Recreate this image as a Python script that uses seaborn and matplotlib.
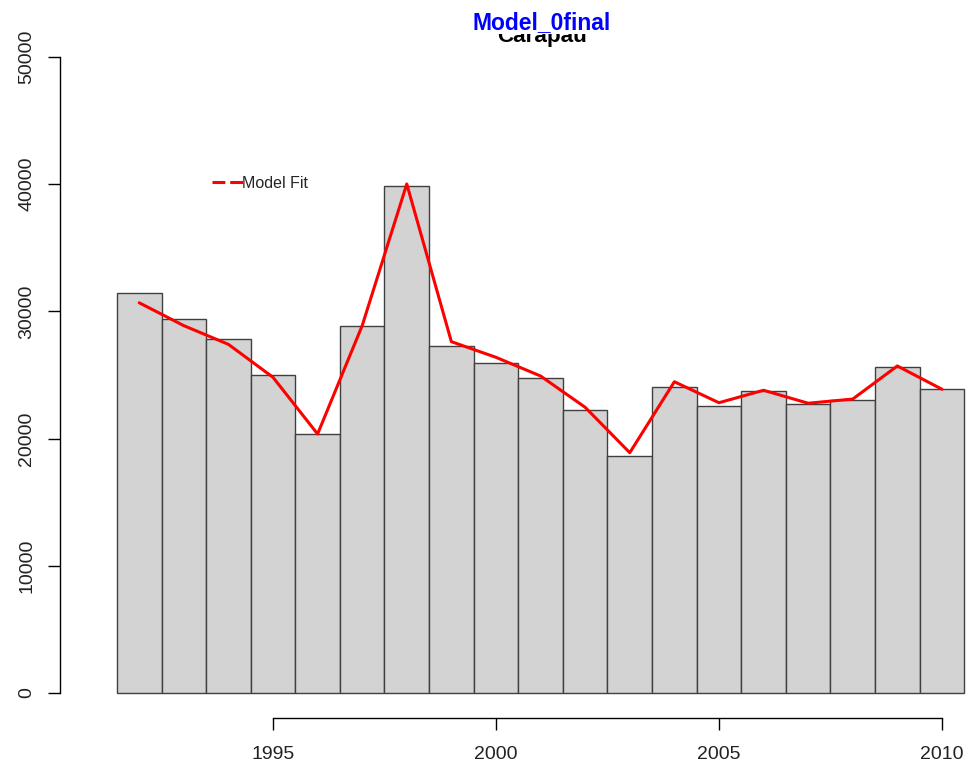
import numpy as np
import pandas as pd
import matplotlib
matplotlib.use("Agg")
import matplotlib.pyplot as plt
from matplotlib.lines import Line2D
import seaborn as sns

# data
years = [1992, 1993, 1994, 1995, 1996, 1997, 1998, 1999, 2000, 2001,
         2002, 2003, 2004, 2005, 2006, 2007, 2008, 2009, 2010]
catch = [31420, 29380, 27810, 25020, 20390, 28880, 39860, 27300, 25980, 24740,
         22250, 18650, 24080, 22560, 23770, 22750, 23060, 25650, 23880]
model_fit = [30680, 28880, 27410, 24820, 20360, 28880, 40020, 27620, 26390, 24920,
             22460, 18890, 24470, 22820, 23800, 22780, 23110, 25710, 23880]
x_ticks = [1995, 2000, 2005, 2010]
y_ticks = [0, 10000, 20000, 30000, 40000, 50000]

df = pd.DataFrame({"year": years, "catch": catch, "fit": model_fit})

sns.set_style("white")
plt.rcParams["font.family"] = ["Liberation Sans", "DejaVu Sans"]

fig = plt.figure(figsize=(9.71, 7.71), dpi=100)
W, H = 971, 771
# plot region in pixels (right side runs past the image, as in the original)
left, right, top, bottom = 60, 1024, 31.6, 718.4
ax = fig.add_axes([left / W, 1 - bottom / H, (right - left) / W, (bottom - top) / H])

sns.barplot(data=df, x="year", y="catch", native_scale=True, width=1,
            color="#D3D3D3", saturation=1, edgecolor="#404040", linewidth=1,
            errorbar=None, ax=ax)
sns.lineplot(data=df, x="year", y="fit", color="red", linewidth=2.2, ax=ax)

ax.set_xlim(1990.224, 2011.84)
ax.set_ylim(-2000, 52000)
ax.set_xlabel("")
ax.set_ylabel("")

for s in ["top", "right"]:
    ax.spines[s].set_visible(False)
for s in ["bottom", "left"]:
    ax.spines[s].set_color("black")
    ax.spines[s].set_linewidth(1)
ax.spines["bottom"].set_bounds(1995, 2010)
ax.spines["left"].set_bounds(0, 50000)

ax.set_xticks(x_ticks)
ax.set_xticklabels([str(t) for t in x_ticks])
ax.set_yticks(y_ticks)
ax.set_yticklabels([str(t) for t in y_ticks], rotation=90, va="center")
ax.tick_params(axis="both", direction="out", length=8.7, width=1, color="black",
               labelsize=14, labelcolor="#222222", bottom=True, left=True)
ax.tick_params(axis="x", pad=11)
ax.tick_params(axis="y", pad=9)

# legend: dashed red key with "Model Fit"
handle = Line2D([], [], color="red", linewidth=2.2, linestyle=(0, (4.2, 1.6)))
ax.legend(handles=[handle], labels=["Model Fit"], loc="center left",
          bbox_to_anchor=(212 / W, 1 - 183 / H), bbox_transform=fig.transFigure,
          frameon=False, fontsize=11.5, handlelength=1.95, handletextpad=-0.05,
          borderpad=0, borderaxespad=0)

# titles: "Model_0final" drawn over the top of "Carapau"
cx = (left + right) / 2 / W
fig.text(cx, 1 - 42 / H, "Carapau", ha="center", va="baseline",
         fontsize=16.2, fontweight="bold", color="black", zorder=1)
fig.text(cx, 1 - 29 / H, "Model_0final", ha="center", va="baseline",
         fontsize=16.5, fontweight="bold", color="blue", zorder=2,
         bbox=dict(facecolor="white", edgecolor="none", pad=0))

fig.savefig("out.png", dpi=100)
